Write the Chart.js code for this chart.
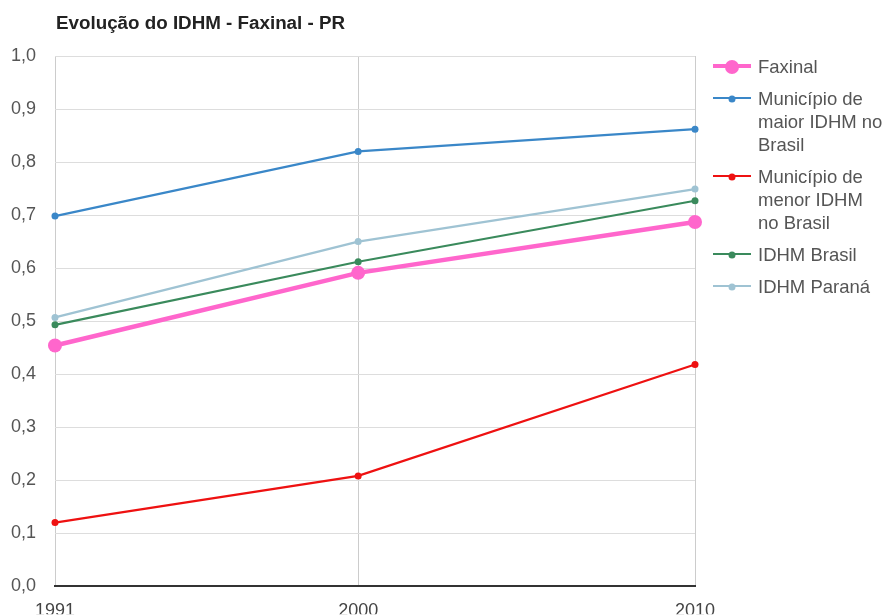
<!DOCTYPE html>
<html>
<head>
<meta charset="utf-8">
<script src="https://cdn.jsdelivr.net/npm/chart.js@4.4.0/dist/chart.umd.min.js"></script>
<style>
  html, body { margin:0; padding:0; background:#fff; }
  #wrap { position:relative; width:886px; height:616px; overflow:hidden; font-family:"Liberation Sans", Arial, sans-serif; }
  #title { position:absolute; left:56px; top:12px; font-size:18.8px; font-weight:bold; color:#222; white-space:nowrap; }
  #legend { position:absolute; left:713px; top:55px; width:173px; }
  .item { display:flex; align-items:flex-start; margin-bottom:9px; }
  .swatch { position:relative; width:38px; height:23px; flex:none; margin-right:7px; }
  .swatch .ln { position:absolute; left:0; right:0; top:50%; }
  .swatch .dot { position:absolute; left:50%; top:50%; border-radius:50%; transform:translate(-50%,-50%); }
  .txt { font-size:18.5px; line-height:23px; color:#555; white-space:nowrap; }
</style>
</head>
<body>
<div id="wrap">
  <canvas id="chart" width="886" height="616"></canvas>
  <div id="title">Evolução do IDHM - Faxinal - PR</div>
  <div id="legend"></div>
</div>
<script>
document.addEventListener("DOMContentLoaded", function() {
    // ===== dados =====
    const years = [1991, 2000, 2010];
    const faxinal = [0.454, 0.591, 0.687];
    const maiorIdhm = [0.698, 0.820, 0.862];
    const menorIdhm = [0.120, 0.208, 0.418];
    const idhmBrasil = [0.493, 0.612, 0.727];
    const idhmParana = [0.507, 0.650, 0.749];
    const yTicks = [0, 0.1, 0.2, 0.3, 0.4, 0.5, 0.6, 0.7, 0.8, 0.9, 1.0];

    const series = [
        { label:'Faxinal', data:faxinal, color:'#ff66cc', width:4.5, radius:7 },
        { label:'Município de maior IDHM no Brasil', data:maiorIdhm, color:'#3a87c8', width:2.2, radius:3.5 },
        { label:'Município de menor IDHM no Brasil', data:menorIdhm, color:'#ee1111', width:2.2, radius:3.5 },
        { label:'IDHM Brasil', data:idhmBrasil, color:'#3a8a5c', width:2.2, radius:3.5 },
        { label:'IDHM Paraná', data:idhmParana, color:'#9fc3d3', width:2.2, radius:3.5 }
    ];
    // linhas da legenda (quebra igual ao original)
    const legendLines = [
        ['Faxinal'],
        ['Município de', 'maior IDHM no', 'Brasil'],
        ['Município de', 'menor IDHM', 'no Brasil'],
        ['IDHM Brasil'],
        ['IDHM Paraná']
    ];

    const fmt = v => v.toFixed(1).replace('.', ',');
    const tickFont = { family:'"Liberation Sans", Arial', size:18 };

    const ctx = document.getElementById('chart').getContext('2d');
    new Chart(ctx, {
        type:'line',
        data:{ datasets: series.slice().reverse().map(s => ({
            label:s.label,
            data:s.data.map((v,i)=>({x:years[i], y:v})),
            borderColor:s.color, backgroundColor:s.color,
            pointBackgroundColor:s.color, pointBorderColor:s.color,
            borderWidth:s.width, pointRadius:s.radius, pointBorderWidth:0,
            tension:0, clip:false
        }))},
        options:{
            responsive:false, animation:false,
            layout:{ padding:{ top:56, right:191, left:0, bottom:0 } },
            plugins:{ legend:{display:false}, tooltip:{enabled:false} },
            scales:{
                x:{
                    type:'linear', min:1991, max:2010,
                    afterBuildTicks: sc => { sc.ticks = years.map(v=>({value:v})); },
                    afterFit: sc => { sc.height = 28; },
                    ticks:{ callback:v=>String(v), color:'#444', padding:14, maxRotation:0, font:tickFont },
                    grid:{ color:'#cccccc', drawTicks:false },
                    border:{ color:'#333', width:2 }
                },
                y:{
                    min:0, max:1,
                    afterBuildTicks: sc => { sc.ticks = yTicks.map(v=>({value:v})); },
                    afterFit: sc => { sc.width = 55; },
                    ticks:{ callback:v=>fmt(v), color:'#555', padding:19, font:tickFont },
                    grid:{ color:'#dddddd', drawTicks:false },
                    border:{ display:false }
                }
            }
        }
    });

    // legenda em HTML
    const legend = document.getElementById('legend');
    series.forEach((s, i) => {
        const item = document.createElement('div');
        item.className = 'item';
        const sw = document.createElement('div');
        sw.className = 'swatch';
        const ln = document.createElement('div');
        ln.className = 'ln';
        ln.style.borderTop = s.width + 'px solid ' + s.color;
        ln.style.marginTop = (-s.width/2) + 'px';
        const dot = document.createElement('div');
        dot.className = 'dot';
        dot.style.width = dot.style.height = (s.radius*2) + 'px';
        dot.style.background = s.color;
        sw.appendChild(ln); sw.appendChild(dot);
        const txt = document.createElement('div');
        txt.className = 'txt';
        txt.innerHTML = legendLines[i].join('<br>');
        item.appendChild(sw); item.appendChild(txt);
        legend.appendChild(item);
    });
});
</script>
</body>
</html>
